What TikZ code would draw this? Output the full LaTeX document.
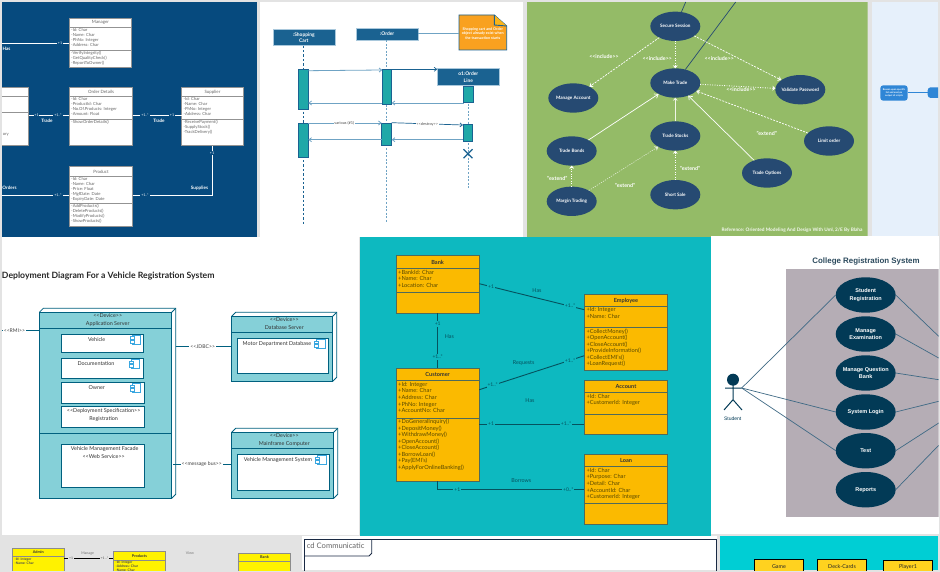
\documentclass[tikz,border=0pt]{standalone}
\usepackage{fontspec}
\setmainfont{Lato}
\newfontfamily\libsans{Liberation Sans}
\usetikzlibrary{arrows.meta,shapes.geometric,calc}
\definecolor{pagegrey}{HTML}{E3E3E3}
\definecolor{navypanel}{HTML}{064A7E}
\definecolor{seqblue}{HTML}{1A6291}
\definecolor{seqlight}{HTML}{6FA3C4}
\definecolor{seqteal}{HTML}{1FA8A8}
\definecolor{noteorange}{HTML}{F9A11F}
\definecolor{greenpanel}{HTML}{94BB67}
\definecolor{ucblue}{HTML}{264A72}
\definecolor{paleblue}{HTML}{E6F0FB}
\definecolor{flowblue}{HTML}{2F86D6}
\definecolor{devteal}{HTML}{85D0D8}
\definecolor{devline}{HTML}{00607F}
\definecolor{iconblue}{HTML}{3AA7E0}
\definecolor{bankteal}{HTML}{0DB9C0}
\definecolor{gold}{HTML}{FBBA00}
\definecolor{goldline}{HTML}{4F6B5A}
\definecolor{goldink}{HTML}{5A4A00}
\definecolor{bankline}{HTML}{05525E}
\definecolor{sysgrey}{HTML}{B5ADB5}
\definecolor{collegedark}{HTML}{023A56}
\definecolor{collegeline}{HTML}{3F6A85}
\definecolor{yellowcls}{HTML}{FFF200}
\definecolor{gamecyan}{HTML}{00CED4}
\definecolor{gamegold}{HTML}{FFD21F}
\definecolor{framenavy}{HTML}{1A2A44}
\newcommand{\fsz}[2]{\fontsize{#1}{#2}\selectfont}
\newcommand{\stereo}[1]{<{}<#1>{}>}
% \clsbox[prefix]{name}{x1}{y1}{x2}{y2}{d1}{d2}{title}
\newcommand{\clsbox}[9][navy]{%
  \node[#1box,anchor=north west,minimum width={(#5-#3)*1pt},minimum height={(#6-#4)*1pt}] (#2) at (#3,#4) {};
  \draw[#1rule] (#2.west |- 0,#7) -- (#2.east |- 0,#7);
  \draw[#1rule] (#2.west |- 0,#8) -- (#2.east |- 0,#8);
  \node[#1title] (#2-t) at ({(#3+#5)/2},{(#4+#7)/2}) {#9};
}
% \clstxt[prefix]{name}{x}{y}{lines}
\newcommand{\clstxt}[5][navy]{\node[#1text,anchor=north west] (#2) at (#3,#4) {#5};}
% \devnode{name}{x1}{y1}{x2}{y2}{divider}
\newcommand{\devnode}[6]{%
  \node[devbox,anchor=north west,minimum width={(#4-#2)*1pt},minimum height={(#5-#3)*1pt}] (#1) at (#2,#3) {};
  \draw[devedge] (#2,#3) -- ++(4,-4) -| ({#4+4},{#5-4}) -- (#4,#5);
  \draw[devedge] (#4,#3) -- ++(4,-4);
  \draw[devedge] (#2,#6) -- (#4,#6);
}
\newcommand{\wbox}[5]{\node[whitebox,anchor=north west,minimum width={(#4-#2)*1pt},minimum height={(#5-#3)*1pt}] (#1) at (#2,#3) {};}
\newcommand{\compicon}[2]{%
  \draw[iconline] ({#1-3.3},{#2-4.4}) rectangle ({#1+5.2},{#2+4.3});
  \draw[iconline,fill=white] ({#1-5.2},{#2-3}) rectangle ({#1-1.2},{#2-.3});
  \draw[iconline,fill=white] ({#1-5.2},{#2+.5}) rectangle ({#1-1.2},{#2+3.2});
}
\tikzset{
  navybox/.style={draw=gray!85,line width=.7pt,fill=white,inner sep=0pt,outer sep=0pt},
  navyrule/.style={draw=gray!85,line width=.7pt},
  navytitle/.style={font=\fsz{4.4}{5},text=gray!80!black,inner sep=0pt},
  navytext/.style={font=\fsz{4.2}{5},text=gray!80!black,inner sep=0pt,align=left},
  navyline/.style={draw=white,line width=.8pt},
  navymult/.style={font=\fsz{3.6}{4},text=white,fill=navypanel,inner sep=.8pt},
  navylabel/.style={font=\bfseries\fsz{4.6}{5},text=white,inner sep=0pt},
  lifebox/.style={fill=seqblue,draw=seqlight!60,line width=.4pt,inner sep=0pt,outer sep=0pt,font=\bfseries\fsz{4.9}{6},text=white,align=center,anchor=north west},
  activ/.style={fill=seqteal,draw=seqblue,line width=.9pt,inner sep=0pt,outer sep=0pt,anchor=north west},
  lifeline/.style={draw=seqblue,line width=.7pt,dash pattern=on 2.4pt off 2pt},
  lifelight/.style={draw=seqlight,line width=.9pt,dash pattern=on 2pt off 1.6pt},
  msg/.style={draw=seqlight,line width=.8pt,-{Straight Barb[length=2.6pt,width=4pt]}},
  msgdark/.style={draw=seqblue,line width=.7pt,-{Straight Barb[length=2.6pt,width=4pt]}},
  msglabel/.style={font=\fsz{3.9}{4},text=black!70,fill=white,inner sep=.5pt},
  ucnode/.style={ellipse,fill=ucblue,draw=none,minimum width=50pt,minimum height=29.4pt,inner ysep=0pt,inner xsep=-6pt,outer sep=0pt,text=white,font=\bfseries\fsz{4.6}{5}},
  ucsolid/.style={draw=white,line width=.7pt,-{Straight Barb[length=3.4pt,width=5pt]}},
  ucthick/.style={draw=white!85!greenpanel,line width=1.2pt,-{Stealth[length=3pt,width=5pt]}},
  ucdash/.style={draw=white,line width=.7pt,dash pattern=on 2pt off 1.2pt,-{Stealth[length=3.4pt,width=5pt,open]}},
  ucdot/.style={draw=white,line width=.9pt,dash pattern=on .9pt off 1.5pt,-{Stealth[length=3pt,width=5pt]}},
  ucthin/.style={draw=white!80!greenpanel,line width=.5pt,dash pattern=on 1.2pt off 1.2pt,-{Stealth[length=3.4pt,width=5pt]}},
  ucdark/.style={draw=ucblue,line width=.7pt},
  uclabel/.style={font=\bfseries\fsz{5.3}{6},text=white,inner sep=0pt},
  flownode/.style={fill=flowblue,rounded corners=3pt,draw=none,inner sep=0pt,outer sep=0pt,text=white,font=\bfseries\fsz{2.4}{2.9},align=center,anchor=north west},
  devbox/.style={fill=devteal,draw=devline,line width=.8pt,inner sep=0pt,outer sep=0pt},
  devedge/.style={draw=devline,line width=.8pt},
  whitebox/.style={fill=white,draw=devline,line width=.8pt,inner sep=0pt,outer sep=0pt},
  iconline/.style={draw=iconblue,line width=.7pt},
  devtext/.style={font=\fsz{5.4}{6},text=black!80,inner sep=0pt},
  devconn/.style={draw=devline,line width=.8pt},
  devlabel/.style={font=\fsz{5.1}{6},text=black!75,fill=white,inner sep=1pt},
  goldbox/.style={draw=goldline,line width=.8pt,fill=gold,inner sep=0pt,outer sep=0pt},
  goldrule/.style={draw=goldline,line width=.8pt},
  goldtitle/.style={font=\bfseries\fsz{5.6}{6},text=black!80,inner sep=0pt},
  goldtext/.style={font=\fsz{5.7}{6.55},text=goldink,inner sep=0pt,align=left},
  bankconn/.style={draw=bankline,line width=.9pt},
  bankmult/.style={font=\fsz{5}{6},text=bankline,fill=bankteal,inner sep=1pt},
  banklabel/.style={font=\fsz{5.4}{6},text=bankline,inner sep=0pt},
  collegeuc/.style={ellipse,fill=collegedark,draw=none,minimum width=60pt,minimum height=35.4pt,inner ysep=0pt,inner xsep=-8pt,outer sep=0pt,text=white,font=\libsans\bfseries\fsz{5.5}{8.6},align=center},
  collegeconn/.style={draw=collegeline,line width=.7pt},
  yellowbox/.style={draw=gray!90,line width=.7pt,fill=yellowcls,inner sep=0pt,outer sep=0pt},
  yellowrule/.style={draw=gray!90,line width=.7pt},
  yellowtitle/.style={font=\bfseries\fsz{3.8}{4},text=black!80,inner sep=0pt},
  yellowtext/.style={font=\bfseries\fsz{3.4}{4},text=black!70,inner sep=0pt,align=left},
  gamebox/.style={fill=gamegold,draw=black,line width=.7pt,inner sep=0pt,outer sep=0pt,anchor=north west},
  gametext/.style={font=\fsz{5.4}{6},text=black!85,inner sep=0pt},
}
\begin{document}
\begin{tikzpicture}[x=1pt,y=-1pt]
\useasboundingbox (0,0) rectangle (940,572);
\fill[pagegrey] (0,0) rectangle (940,572);

%% ---------- panel 1: navy class diagram
\begin{scope}
\clip (2,2) rectangle (257,237);
\fill[navypanel] (2,2) rectangle (257,237);
\clsbox{manager}{69.3}{18.3}{131.7}{67.7}{27.3}{50.3}{Manager}
\clstxt{manager-a}{71}{28.6}{-Id: Char\\-Name: Char\\-PhNo: Integer\\-Address: Char}
\clstxt{manager-o}{71}{51}{-VerifyIntegrity()\\-GetQualityCheck()\\-ReportToOwner()}
\clsbox{orderdet}{69.3}{87.3}{132.7}{145.7}{96.3}{119.3}{Order Details}
\clstxt{orderdet-a}{71}{97.5}{-Id: Char\\-ProductId: Char\\-No.Of.Products: Integer\\-Amount: Float}
\clstxt{orderdet-o}{71}{120}{-ShowOrderDetails()}
\clsbox{supplier}{181.7}{87.3}{243.3}{145.7}{96.3}{119.3}{Supplier}
\clstxt{supplier-a}{183.4}{97.5}{-Id: Char\\-Name: Char\\-PhNo: Integer\\-Address: Char}
\clstxt{supplier-o}{183.4}{120}{-ReceivePayment()\\-SupplyStock()\\-TrackDelivery()}
\clsbox{product}{69.3}{166.7}{132.7}{226.7}{176.3}{203.3}{Product}
\clstxt{product-a}{71}{177.3}{-Id: Char\\-Name: Char\\-Price: Float\\-MgfDate: Date\\-ExpiryDate: Date}
\clstxt{product-o}{71}{204.3}{-AddProducts()\\-DeleteProducts()\\-ModifyProducts()\\-ShowProducts()}
\clsbox{leftcls}{-40}{87.3}{28.7}{145.7}{96.7}{112.3}{}
\clstxt{leftcls-o}{2.6}{133.5}{ory}
\coordinate (navyfreeA) at (2,43.3);
\coordinate (navyfreeB) at (2,195);
\draw[navyline] (navyfreeA) -- (manager.west |- navyfreeA);
\draw[navyline] (leftcls.east |- 0,115.3) -- (orderdet.west |- 0,115.3);
\draw[navyline] (orderdet.east |- 0,115.3) -- (supplier.west |- 0,115.3);
\draw[navyline] (navyfreeB) -- (product.west |- navyfreeB);
\draw[navyline] (product.east |- navyfreeB) -| (212,145.7);
\node[navymult] (nm1) at (60,43.3) {+1};
\node[navymult] (nm2) at (36.5,115.3) {+1};
\node[navymult] (nm3) at (58,115.3) {+1..*};
\node[navymult] (nm4) at (145,115.3) {+1..*};
\node[navymult] (nm5) at (172,115.3) {+1};
\node[navymult] (nm6) at (58,195) {+1..*};
\node[navymult] (nm7) at (145,195) {+1..*};
\node[navymult] (nm8) at (212,153) {+1};
\node[navylabel] (nl1) at (6.5,49) {Has};
\node[navylabel] (nl2) at (47,121) {Trade};
\node[navylabel] (nl3) at (159,121) {Trade};
\node[navylabel] (nl4) at (9.5,188) {Orders};
\node[navylabel] (nl5) at (199.5,188) {Supplies};
\end{scope}

%% ---------- panel 2: sequence diagram
\fill[white] (260,2) rectangle (523,237);
\node[lifebox,minimum width=62.3pt,minimum height=16.7pt] (cart) at (272.7,29) {:Shopping\\Cart};
\node[lifebox,minimum width=62.3pt,minimum height=12pt] (order) at (356,28) {:Order};
\node[lifebox,minimum width=62pt,minimum height=17pt] (line) at (437.3,68.7) {o1:Order\\Line};
\coordinate (cartend) at (303.3,226);
\coordinate (orderend) at (386.7,223.3);
\coordinate (lineend) at (468,187.7);
\draw[lifeline] (303.3,45.7) -- (cartend);
\draw[lifelight] (386.7,40) -- (orderend);
\draw[lifelight] (468,85.7) -- (lineend);
\node[activ,minimum width=10pt,minimum height=39.3pt] (a1) at (298.3,69.7) {};
\node[activ,minimum width=10pt,minimum height=34pt] (a2) at (298.3,123) {};
\node[activ,minimum width=9.4pt,minimum height=34.6pt] (b1) at (382.3,69.7) {};
\node[activ,minimum width=10pt,minimum height=21.7pt] (b2) at (381.7,123.3) {};
\node[activ,minimum width=9.6pt,minimum height=16.7pt] (c1) at (463.7,86) {};
\node[activ,minimum width=9.7pt,minimum height=16.6pt] (c2) at (463,124.7) {};
\draw[msg] (a1.east |- 0,70.7) -- (b1.west |- 0,70);
\draw[msgdark] (b1.east |- 0,69.3) -- (line.west |- 0,69.3);
\draw[msg] (c1.west |- 0,103) -- (b1.east |- 0,103);
\draw[msg] (b1.west |- 0,103) -- (a1.east |- 0,103);
\draw[msg] (a2.east |- 0,123) -- (b2.west |- 0,123);
\draw[msgdark] (b2.east |- 0,122.7) -- (c2.west |- 0,125);
\draw[msg] (c2.west |- 0,139.7) -- (b2.east |- 0,139.7);
\draw[msg] (b2.west |- 0,139.7) -- (a2.east |- 0,139.7);
\node[msglabel] (ml1) at (344.3,123.3) {various (\#1)};
\node[msglabel] (ml2) at (427.3,124) {\stereo{destroy}};
\draw[seqblue,line width=1.2pt] (463.5,149.2) -- (472.5,158.2) (463.5,158.2) -- (472.5,149.2);
\draw[seqblue,line width=.9pt,fill=noteorange] (459,15) -- (494.3,15) -- (506.7,26) -- (506.7,50) -- (459,50) -- cycle;
\draw[seqblue,line width=.9pt,fill=noteorange!80!yellow] (494.3,15) -- (494.3,25) -- (506.7,26);
\node[font=\bfseries\fsz{3.7}{4.6},text=white,align=center,inner sep=0pt] (notetext) at (482.8,33.5) {Shopping cart and Order\\object already exist when\\the transaction starts};
\coordinate (noteleft) at (459,33.7);
\draw[seqlight,line width=.9pt] (order.east |- noteleft) -- (noteleft);

%% ---------- panel 3: green use-case diagram
\begin{scope}
\clip (527,2) rectangle (867.5,237);
\fill[greenpanel] (527,2) rectangle (867.5,237);
\coordinate (ssfree) at (685.7,2);
\coordinate (mtfree) at (735.7,2);
\node[ucnode] (ss) at (675.3,26.3) {Secure Session};
\node[ucnode] (mt) at (675.3,83) {Make Trade};
\node[ucnode] (ma) at (573.3,98) {Manage Account};
\node[ucnode] (vp) at (800.3,89.7) {Validate Password};
\node[ucnode] (tb) at (571.7,151) {Trade Bonds};
\node[ucnode] (ts) at (675.3,136) {Trade Stocks};
\node[ucnode] (lo) at (829,141) {Limit order};
\node[ucnode] (to) at (767,173) {Trade Options};
\node[ucnode] (mg) at (571.7,201.3) {Margin Trading};
\node[ucnode] (sh) at (675.3,194.7) {Short Sale};
\draw[ucdark] (ss) -- (ssfree);
\draw[ucdark] (mt) -- (mtfree);
\draw[ucdash] (ss) -- (ma);
\draw[ucdot] (ss) -- (mt);
\draw[ucdash] (ss) -- (vp);
\draw[ucdot] (mt) -- (vp);
\draw[ucsolid] (tb) -- (mt);
\draw[ucthick] (ts) -- (mt);
\draw[ucsolid] (to) -- (mt);
\draw[ucdash] (lo) -- (mt);
\draw[ucdot] (sh) -- (ts);
\draw[ucdot] (mg) -- (tb);
\draw[ucthin] (mg) -- (ts);
\node[uclabel] (ul1) at (604,56.7) {\stereo{include}};
\node[uclabel] (ul2) at (657.3,58.3) {\stereo{include}};
\node[uclabel] (ul3) at (719.3,58.3) {\stereo{include}};
\node[uclabel] (ul4) at (741,90) {\stereo{include}};
\node[uclabel] (ul5) at (766.7,133.3) {"extend"};
\node[uclabel] (ul6) at (690,168.3) {"extend"};
\node[uclabel] (ul7) at (557.3,178.3) {"extend"};
\node[uclabel] (ul8) at (625,185) {"extend"};
\node[font=\bfseries\fsz{4.75}{5},text=white!90!greenpanel,anchor=east,inner sep=0pt] (ref) at (862.7,230) {Reference: Oriented Modeling And Design With Uml, 2/E By Blaha};
\end{scope}

%% ---------- panel 4: pale-blue flow chart
\begin{scope}
\clip (872,2) rectangle (938,236);
\fill[paleblue] (872,2) rectangle (938,236);
\node[flownode,minimum width=27.4pt,minimum height=15.4pt] (fa) at (880.3,85.3) {Reason upon specific\\list and analyze\\output of scripts};
\node[flownode,minimum width=20pt,minimum height=10.7pt] (fb) at (927.7,87.3) {};
\draw[flowblue,line width=.9pt] (fa.east |- fb.west) -- (fb.west);
\end{scope}

%% ---------- white sheet behind the middle row
\fill[white] (2,237) rectangle (359,535);
\fill[white] (711,236) rectangle (938.7,534);

%% ---------- panel 5: deployment diagram
\begin{scope}
\clip (2,237) rectangle (359,535);
\node[font=\bfseries\fsz{8.67}{10},text=black!85,anchor=east,inner sep=0pt] (deptitle) at (214.7,275.7) {Deployment Diagram For a Vehicle Registration System};
\devnode{app}{39.3}{312.3}{171.7}{498.3}{328.3}
\draw[devedge] (39.3,433.7) -- (171.7,433.7);
\node[devtext] (appa) at (107.7,316) {\stereo{Device}};
\node[devtext] (appb) at (107.7,324) {Application Server};
\wbox{veh}{61.3}{334.7}{143.7}{352.3}
\node[devtext] (veht) at (96.7,340) {Vehicle};
\compicon{135.5}{339.7}
\wbox{doc}{61.3}{358.7}{143.7}{378.3}
\node[devtext] (doct) at (96,364) {Documentation};
\compicon{134.5}{364}
\wbox{own}{61.3}{382.3}{144.7}{403.3}
\node[devtext] (ownt) at (96.7,388) {Owner};
\compicon{135.5}{388}
\wbox{spec}{61.3}{406.3}{144.7}{427.3}
\node[devtext] (speca) at (103.7,411) {\stereo{Deployment Specification}};
\node[devtext] (specb) at (103.7,419) {Registration};
\wbox{facade}{61.3}{444.3}{144.7}{487.3}
\node[devtext] (faca) at (104.7,449) {Vehicle Management Facade};
\node[devtext] (facb) at (103.7,457) {\stereo{Web Service}};
\devnode{dbs}{231.7}{316.3}{332.7}{381.3}{332.3}
\node[devtext] (dbsa) at (284.3,320) {\stereo{Device}};
\node[devtext] (dbsb) at (284.3,328) {Database Server};
\wbox{dbi}{237.3}{338.3}{328.3}{373.3}
\node[devtext] (dbit) at (277,344) {Motor Department Database};
\compicon{320}{344}
\devnode{mfc}{231.7}{432.3}{333.7}{498.3}{448.3}
\node[devtext] (mfca) at (284.3,436) {\stereo{Device}};
\node[devtext] (mfcb) at (284.3,444) {Mainframe Computer};
\wbox{mfi}{237.3}{454.3}{329.3}{490.3}
\node[devtext] (mfit) at (278,460) {Vehicle Management System};
\compicon{321}{460}
\coordinate (rmifree) at (2,330.3);
\draw[devconn] (rmifree) -- (app.west |- rmifree);
\draw[devconn] (175.7,346.3) -- (dbs.west |- 0,346.3);
\draw[devconn] (173.2,464.3) -- (mfc.west |- 0,464.3);
\node[devlabel,anchor=west] (rmi) at (2.6,330.3) {\stereo{RMI}};
\node[devlabel] (jdbc) at (202.7,346.3) {\stereo{JDBC}};
\node[devlabel] (mbus) at (201.7,464.3) {\stereo{message bus}};
\end{scope}

%% ---------- panel 6: bank class diagram
\begin{scope}
\clip (359.5,237) rectangle (711,535.7);
\fill[bankteal] (359.5,237) rectangle (711,535.7);
\clsbox[gold]{bank}{396}{255.7}{479.3}{313}{268.7}{292}{Bank}
\clstxt[gold]{bank-a}{398}{270}{+BankId: Char\\+Name: Char\\+Location: Char}
\clsbox[gold]{cust}{396}{368}{479.3}{481.3}{380.7}{418}{Customer}
\clstxt[gold]{cust-a}{398}{382}{+Id: Integer\\+Name: Char\\+Address: Char\\+PhNo: Integer\\+AccountNo: Char}
\clstxt[gold]{cust-o}{398}{419}{+DoGeneralInquiry()\\+DepositMoney()\\+WithdrawMoney()\\+OpenAccount()\\+CloseAccount()\\+BorrowLoan()\\+Pay(EMI's)\\+ApplyForOnlineBanking()}
\clsbox[gold]{emp}{584.3}{294.7}{667.7}{370.7}{306.3}{327.3}{Employee}
\clstxt[gold]{emp-a}{586.3}{307.5}{+Id: Integer\\+Name: Char}
\clstxt[gold]{emp-o}{586.3}{328.5}{+CollectMoney()\\+OpenAccount()\\+CloseAccount()\\+ProvideInformation()\\+CollectEMI's()\\+LoanRequest()}
\clsbox[gold]{acct}{584.3}{380.3}{667.7}{434.7}{392.7}{414}{Account}
\clstxt[gold]{acct-a}{586.3}{394}{+Id: Char\\+CustomerId: Integer}
\clsbox[gold]{loan}{584.3}{454.7}{667.7}{524.7}{466.7}{503.3}{Loan}
\clstxt[gold]{loan-a}{586.3}{468}{+Id: Char\\+Purpose: Char\\+Detail: Char\\+AccountId: Char\\+CustomerId: Integer}
\draw[bankconn] (bank.east |- 0,283.7) -- (emp.west |- 0,309.7);
\draw[bankconn] (bank.south) -- (cust.north);
\draw[bankconn] (cust.east |- 0,389.7) -- (emp.west |- 0,355.7);
\draw[bankconn] (cust.east |- 0,424) -- (acct.west |- 0,424);
\draw[bankconn] (cust.south) |- (loan.west |- 0,489.7);
\node[bankmult] (bm1) at (491,286.7) {+1};
\node[bankmult] (bm2) at (570,305.7) {+1..*};
\node[bankmult] (bm3) at (437.7,324) {+1};
\node[bankmult] (bm4) at (437.7,357) {+1..*};
\node[bankmult] (bm5) at (492.7,385) {+1..*};
\node[bankmult] (bm6) at (570,360.3) {+1..*};
\node[bankmult] (bm7) at (491,424) {+1};
\node[bankmult] (bm8) at (566,424) {+1..*};
\node[bankmult] (bm9) at (457.3,489.7) {+1};
\node[bankmult] (bm10) at (568.3,489.7) {+0..*};
\node[banklabel] (bl1) at (537,291) {Has};
\node[banklabel] (bl2) at (449.3,336.3) {Has};
\node[banklabel] (bl3) at (523.7,363) {Requests};
\node[banklabel] (bl4) at (530,400.7) {Has};
\node[banklabel] (bl5) at (521.3,480.7) {Borrows};
\end{scope}

%% ---------- panel 7: college use-case diagram
\begin{scope}
\clip (711,236) rectangle (938.7,534);
\fill[sysgrey] (786.3,269) rectangle (938.7,517.3);
\node[font=\libsans\bfseries\fsz{7.9}{9},text=collegeline!70!black,inner sep=0pt] (coltitle) at (866,261.7) {College Registration System};
\node[collegeuc] (c1) at (865.7,295) {Student\\Registration};
\node[collegeuc] (c2) at (865.7,334) {Manage\\[-1.9pt]Examination};
\node[collegeuc] (c3) at (865.7,373) {Manage Question\\[-1.9pt]Bank};
\node[collegeuc] (c4) at (865.7,412) {System Login};
\node[collegeuc] (c5) at (865.7,450.7) {Test};
\node[collegeuc] (c6) at (865.7,489.7) {Reports};
\coordinate (hand) at (741.7,388);
\coordinate (rfree1) at (938.7,336.3);
\coordinate (rfree2) at (938.7,358);
\coordinate (rfree3) at (938.7,379.7);
\coordinate (rfree4) at (938.7,401.3);
\coordinate (rfree5) at (938.7,423);
\coordinate (rfree6) at (938.7,445.3);
\draw[collegeconn] (hand) -- (c1.west);
\draw[collegeconn] (hand) -- (c4.west);
\draw[collegeconn] (hand) -- (c5.west);
\draw[collegeconn] (c1.east) -- (rfree1);
\draw[collegeconn] (c2.east) -- (rfree2);
\draw[collegeconn] (c3.east) -- (rfree3);
\draw[collegeconn] (c4.east) -- (rfree4);
\draw[collegeconn] (c5.east) -- (rfree5);
\draw[collegeconn] (c6.east) -- (rfree6);
\fill[collegedark] (733,379.7) circle (6);
\draw[collegedark,line width=1pt] (733,385) -- (733,399.7) (725,388) -- (741.7,388) (724,410) -- (733,399.7) -- (742,410);
\node[font=\libsans\fsz{5}{6},text=collegedark,inner sep=0pt] (actor) at (732.7,418.7) {Student};
\end{scope}

%% ---------- bottom row
\begin{scope}
\clip (0,535) rectangle (300,570);
\clsbox[yellow]{admin}{12.3}{548.3}{64.3}{590}{556.7}{585}{Admin}
\clstxt[yellow]{admin-a}{14.3}{557.5}{-Id: Integer\\-Name: Char}
\clsbox[yellow]{prod}{113.3}{551.3}{165.7}{590}{560}{585}{Products}
\clstxt[yellow]{prod-a}{115.3}{560.6}{-Id: Integer\\-Address: Char\\-Name: Char}
\clsbox[yellow]{bnk}{238.3}{553.3}{290.7}{590}{561.7}{585}{Bank}
\draw[line width=.7pt] (admin.east |- 0,558.3) -- (prod.west |- 0,558.3);
\node[font=\fsz{3.4}{4},text=black!70,fill=pagegrey,inner sep=.8pt] (ym1) at (71,558.3) {+1};
\node[font=\fsz{3.4}{4},text=black!70,fill=pagegrey,inner sep=.8pt] (ym2) at (104.5,558) {+1 ..*};
\node[font=\fsz{3.6}{4},text=black!55,inner sep=0pt] (yl1) at (87.7,553.7) {Manage};
\node[font=\fsz{3.6}{4},text=black!55,inner sep=0pt] (yl2) at (190,552.7) {View};
\end{scope}
\fill[white] (302,536) rectangle (717,570);
\begin{scope}
\clip (302,536) rectangle (717,570);
\draw[framenavy,line width=.8pt] (304,539.3) rectangle (716.5,590);
\draw[framenavy,line width=.8pt] (304,556) -- (369,556) -- (371.7,553.3) -- (371.7,539.3);
\node[font=\fsz{7.6}{9},text=black!60,anchor=west,inner sep=0pt] (cdtext) at (306.7,546) {cd Communicatic};
\end{scope}
\begin{scope}
\clip (720,536) rectangle (938.3,570);
\fill[gamecyan] (720,536) rectangle (938.3,570);
\node[gamebox,minimum width=49.4pt,minimum height=30pt] (game) at (754.3,559.3) {};
\node[gamebox,minimum width=49.4pt,minimum height=30pt] (deck) at (817.3,559.3) {};
\node[gamebox,minimum width=49.4pt,minimum height=30pt] (player) at (883.3,560) {};
\node[gametext] (gamet) at (779,566.7) {Game};
\node[gametext] (deckt) at (842,566.7) {Deck-Cards};
\node[gametext] (playert) at (908,566.7) {Player1};
\end{scope}
\end{tikzpicture}
\end{document}
